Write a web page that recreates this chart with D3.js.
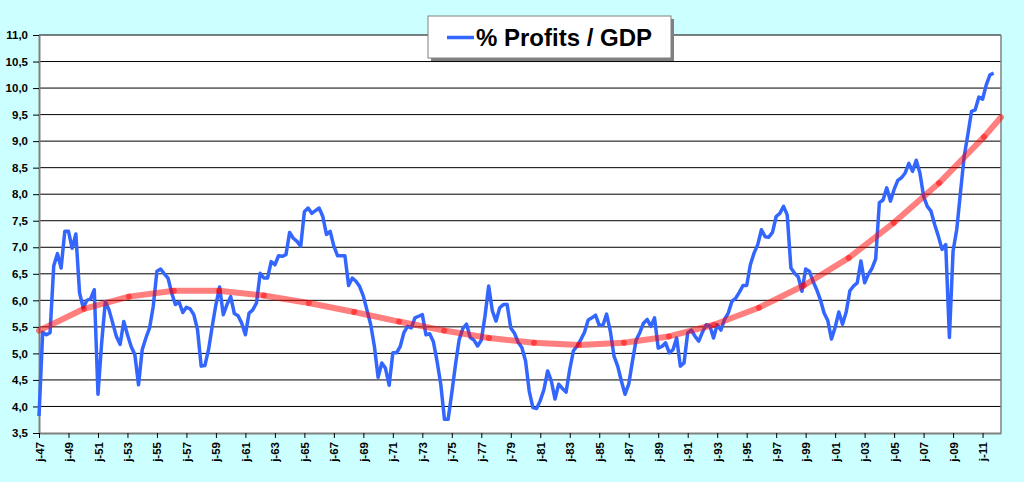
<!DOCTYPE html>
<html>
<head>
<meta charset="utf-8">
<script src="https://cdn.jsdelivr.net/npm/d3@7"></script>
<style>
  html, body { margin: 0; padding: 0; background: #ccffff; }
  svg { display: block; }
</style>
</head>
<body>
<svg id="chart" width="1024" height="482"></svg>
<script>
// ---- DATA ----
const seriesName = "% Profits / GDP";
// quarterly values, 1947Q1 ... 2011Q4
const profitsGdp = [
  3.82,5.40,5.35,5.39, 6.65,6.88,6.61,7.30, 7.30,6.98,7.25,6.14, 5.86,6.00,6.03,6.20,
  4.23,5.20,5.98,5.82, 5.57,5.32,5.17,5.60, 5.35,5.13,4.98,4.41, 5.07,5.29,5.48,5.89,
  6.55,6.59,6.50,6.42, 6.14,5.92,5.97,5.77, 5.87,5.84,5.73,5.45, 4.76,4.77,5.07,5.51,
  5.92,6.25,5.73,5.92, 6.07,5.75,5.71,5.57, 5.35,5.76,5.82,5.95, 6.51,6.42,6.42,6.73,
  6.67,6.84,6.83,6.86, 7.28,7.17,7.11,7.02, 7.67,7.74,7.64,7.69, 7.74,7.58,7.24,7.30,
  7.02,6.84,6.84,6.84, 6.28,6.42,6.36,6.26, 6.08,5.81,5.54,5.13, 4.55,4.82,4.72,4.40,
  5.01,5.01,5.13,5.39, 5.51,5.48,5.67,5.70, 5.73,5.35,5.37,5.22, 4.85,4.42,3.76,3.76,
  4.26,4.79,5.26,5.47, 5.55,5.30,5.25,5.14, 5.25,5.70,6.27,5.80, 5.61,5.86,5.92,5.92,
  5.48,5.38,5.21,5.11, 4.86,4.29,3.98,3.96, 4.11,4.32,4.67,4.48, 4.14,4.42,4.34,4.27,
  4.70,5.05,5.14,5.26, 5.40,5.63,5.67,5.72, 5.53,5.53,5.74,5.42, 4.95,4.76,4.48,4.23,
  4.42,4.85,5.25,5.39, 5.57,5.64,5.51,5.67, 5.10,5.13,5.20,5.01, 5.07,5.29,4.76,4.82,
  5.39,5.44,5.32,5.23, 5.40,5.54,5.52,5.29, 5.54,5.44,5.64,5.76, 5.98,6.04,6.15,6.28,
  6.28,6.67,6.89,7.05, 7.33,7.20,7.19,7.28, 7.58,7.64,7.77,7.61, 6.61,6.51,6.44,6.17,
  6.59,6.55,6.36,6.20, 6.01,5.76,5.62,5.27, 5.49,5.78,5.55,5.78, 6.18,6.27,6.33,6.74,
  6.33,6.49,6.60,6.78, 7.84,7.89,8.12,7.87, 8.09,8.26,8.31,8.40, 8.58,8.43,8.64,8.40,
  7.96,7.77,7.68,7.43, 7.21,6.96,7.05,5.30, 6.93,7.34,8.03,8.71, 9.12,9.56,9.59,9.83,
  9.79,10.06,10.25,10.28
];
// polynomial trend line, read at its drawn vertices (quarter index -> value)
const trendIndex = [0,12.2,24.4,36.6,48.8,61,73.2,85.5,97.7,109.9,122.1,134.3,146.5,158.7,170.9,183.1,195.3,207.5,219.7,231.9,244.2,256.4,261];
const trendValue = [5.43,5.84,6.07,6.18,6.18,6.09,5.95,5.78,5.60,5.43,5.29,5.20,5.16,5.20,5.32,5.54,5.86,6.28,6.80,7.46,8.21,9.08,9.45];
const xTickLabels = ["j-47","j-49","j-51","j-53","j-55","j-57","j-59","j-61","j-63","j-65","j-67","j-69","j-71","j-73","j-75","j-77","j-79",
  "j-81","j-83","j-85","j-87","j-89","j-91","j-93","j-95","j-97","j-99","j-01","j-03","j-05","j-07","j-09","j-11"];
const yTicks = [3.5,4.0,4.5,5.0,5.5,6.0,6.5,7.0,7.5,8.0,8.5,9.0,9.5,10.0,10.5,11.0];
const categoryCount = 261;
const quartersPerLabel = 8;

// ---- CHART ----
const svg = d3.select("#chart");
const plot = { left: 39, right: 1001, top: 35, bottom: 433 };

const x = d3.scaleLinear().domain([0, categoryCount]).range([plot.left, plot.right]);
const y = d3.scaleLinear().domain([3.5, 11]).range([plot.bottom, plot.top]);

// plot area
svg.append("rect")
  .attr("x", plot.left).attr("y", plot.top)
  .attr("width", plot.right - plot.left).attr("height", plot.bottom - plot.top)
  .attr("fill", "#ffffff");

// gridlines
svg.append("g").selectAll("line").data(yTicks.filter(d => d > 3.5)).join("line")
  .attr("x1", plot.left).attr("x2", plot.right)
  .attr("y1", d => y(d)).attr("y2", d => y(d))
  .attr("stroke", "#000").attr("stroke-width", 1);

// right border
svg.append("line")
  .attr("x1", plot.right).attr("x2", plot.right)
  .attr("y1", plot.top).attr("y2", plot.bottom)
  .attr("stroke", "#808080").attr("stroke-width", 1.5);

// Y axis
const fmt = d3.format(".1f");
const yAxis = d3.axisLeft(y).tickValues(yTicks).tickSize(6).tickSizeOuter(0)
  .tickFormat(d => fmt(d).replace(".", ","));
const gy = svg.append("g").attr("transform", `translate(${plot.left},0)`).call(yAxis);
gy.select(".domain").attr("stroke", "#808080").attr("stroke-width", 2);
gy.selectAll(".tick line").attr("stroke", "#000");
gy.selectAll(".tick text")
  .attr("x", -11)
  .attr("fill", "#000")
  .style("font-family", "'Liberation Sans', Arial, sans-serif")
  .style("font-weight", "bold")
  .style("font-size", "11.5px");

// X axis
const xTickValues = xTickLabels.map((_, i) => i * quartersPerLabel);
const xAxis = d3.axisBottom(x).tickValues(xTickValues).tickSize(5).tickSizeOuter(0)
  .tickFormat((d, i) => xTickLabels[i]);
const gx = svg.append("g").attr("transform", `translate(0,${plot.bottom})`).call(xAxis);
gx.select(".domain").attr("stroke", "#808080").attr("stroke-width", 2);
gx.selectAll(".tick line").attr("stroke", "#000");
gx.selectAll(".tick text")
  .attr("fill", "#000")
  .attr("text-anchor", "end")
  .attr("transform", "rotate(-90)")
  .attr("x", -9).attr("y", 0).attr("dy", "0.35em")
  .style("font-family", "'Liberation Sans', Arial, sans-serif")
  .style("font-weight", "bold")
  .style("font-size", "11.5px");

// series line
const line = d3.line().x((d, i) => x(i)).y(d => y(d));
svg.append("path")
  .datum(profitsGdp)
  .attr("d", line)
  .attr("fill", "none")
  .attr("stroke", "#3366ff")
  .attr("stroke-width", 3.5)
  .attr("stroke-linejoin", "round");

// trend line (separate translucent segments)
const trendPts = trendIndex.map((t, i) => [t, trendValue[i]]);
const segs = d3.pairs(trendPts);
svg.append("g").selectAll("line").data(segs).join("line")
  .attr("x1", d => x(d[0][0])).attr("y1", d => y(d[0][1]))
  .attr("x2", d => x(d[1][0])).attr("y2", d => y(d[1][1]))
  .attr("stroke", "#ff0000")
  .attr("stroke-opacity", 0.5)
  .attr("stroke-width", 6)
  .attr("stroke-linecap", "round");

// legend
const lg = svg.append("g").attr("transform", "translate(428,16)");
lg.append("rect").attr("x", 3).attr("y", 3).attr("width", 243).attr("height", 42).attr("fill", "#808080");
lg.append("rect").attr("x", 0).attr("y", 0).attr("width", 243).attr("height", 42)
  .attr("fill", "#ffffff").attr("stroke", "#808080").attr("stroke-width", 1);
lg.append("line").attr("x1", 19).attr("x2", 46).attr("y1", 21.5).attr("y2", 21.5)
  .attr("stroke", "#3366ff").attr("stroke-width", 3.5);
lg.append("text").attr("x", 48).attr("y", 30)
  .text(seriesName)
  .attr("fill", "#000")
  .style("font-family", "'Liberation Sans', Arial, sans-serif")
  .style("font-weight", "bold")
  .style("font-size", "24px");
</script>
</body>
</html>
